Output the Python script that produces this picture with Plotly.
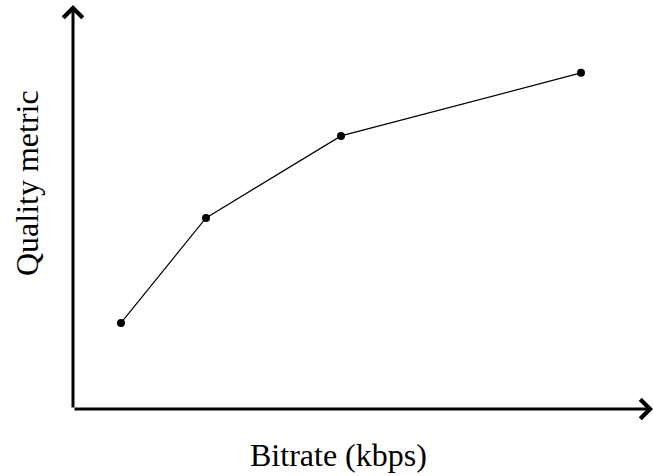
import plotly.graph_objects as go

# Data (axes have no tick labels)
bitrate_kbps = [96, 266, 536, 1016]
quality = [21.3, 47.3, 67.6, 83.2]

x_label = "Bitrate (kbps)"
y_label = "Quality metric"

fig = go.Figure()
fig.add_trace(go.Scatter(
    x=bitrate_kbps, y=quality, mode="lines+markers",
    line=dict(color="black", width=1.2),
    marker=dict(color="black", size=8),
    showlegend=False,
))

# Axis arrows
fig.add_annotation(xref="x domain", yref="y domain", axref="x domain", ayref="y domain",
                   x=1, y=0, ax=0, ay=0, text="", showarrow=True,
                   arrowhead=4, arrowwidth=3, arrowsize=1.25, arrowcolor="black")
fig.add_annotation(xref="x domain", yref="y domain", axref="x domain", ayref="y domain",
                   x=0, y=1, ax=0, ay=0, text="", showarrow=True,
                   arrowhead=4, arrowwidth=3, arrowsize=1.25, arrowcolor="black")

# Axis labels
fig.add_annotation(xref="paper", yref="paper", x=(338 - 73) / 580, y=-(455 - 409) / 404,
                   text=x_label, showarrow=False, xanchor="center", yanchor="middle",
                   font=dict(family="Liberation Serif", size=32, color="black"))
fig.add_annotation(xref="paper", yref="paper", x=-(73 - 27) / 580, y=(409 - 183) / 404,
                   text=y_label, showarrow=False, xanchor="center", yanchor="middle",
                   textangle=-90,
                   font=dict(family="Liberation Serif", size=32, color="black"))

fig.update_xaxes(range=[0, 1160], visible=False)
fig.update_yaxes(range=[0, 100], visible=False)
fig.update_layout(
    width=653, height=476,
    margin=dict(l=73, r=0, t=5, b=67),
    plot_bgcolor="white", paper_bgcolor="white",
)
fig.write_html("out.html", config={"displayModeBar": False},
               post_script="document.body.style.margin='0';")
